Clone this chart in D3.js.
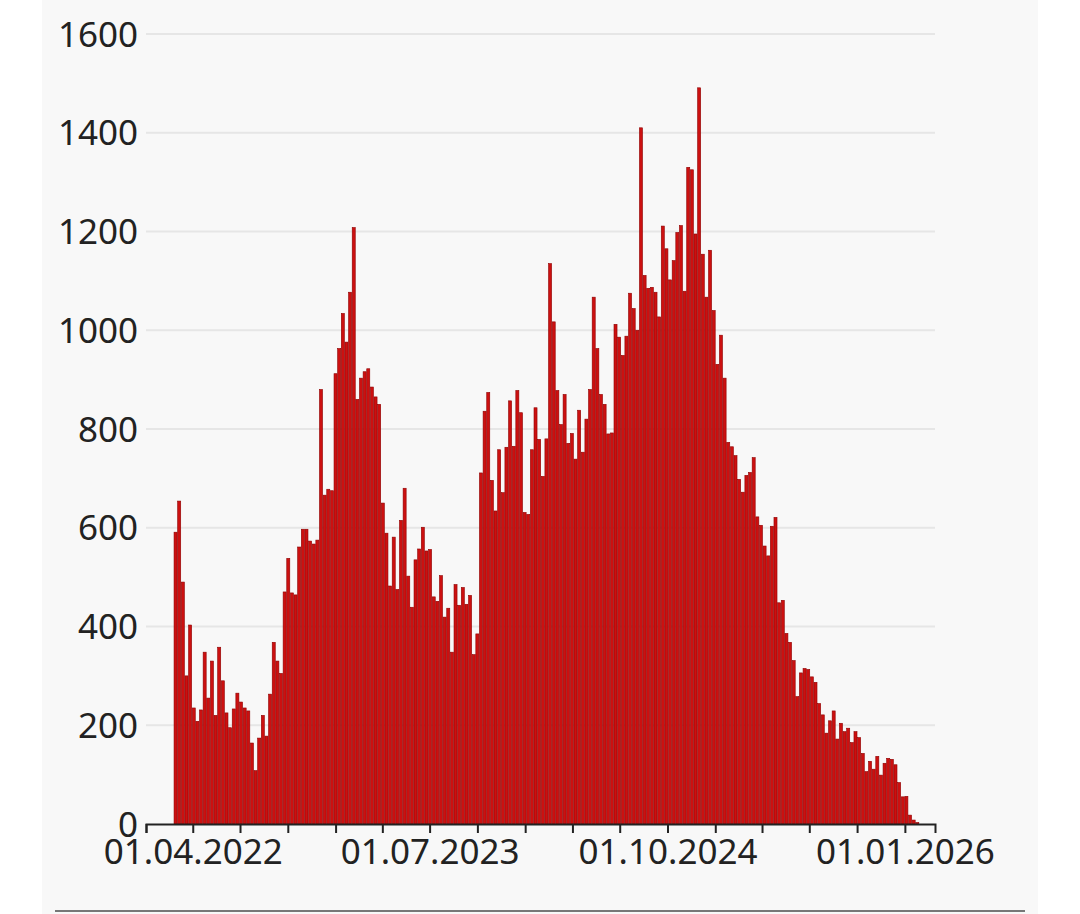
<!DOCTYPE html>
<html><head><meta charset="utf-8">
<script src="https://cdn.jsdelivr.net/npm/d3@7"></script>
<style>body{margin:0;background:#fff;font-family:"Noto Sans",sans-serif}</style>
</head><body><svg id="c" width="1080" height="914"></svg>
<script>
const startDate = "2022-02-24";
const values = [591,654,490,300,403,235,208,231,348,255,330,220,358,290,225,195,233,265,247,235,229,164,108,174,220,178,263,368,330,305,470,538,468,464,561,597,597,573,567,575,880,666,678,675,912,963,1034,976,1077,1208,860,903,916,922,885,865,850,650,589,482,581,475,615,680,502,439,535,557,601,553,556,460,451,503,419,437,348,485,443,479,445,463,343,385,711,836,874,696,634,758,671,763,857,765,878,833,631,627,758,843,779,704,780,1135,1017,878,809,870,771,791,739,838,753,820,880,1067,963,870,850,790,792,1012,986,949,988,1075,1044,1000,1410,1111,1085,1087,1077,1027,1211,1165,1102,1141,1198,1212,1079,1330,1325,1195,1491,1154,1067,1162,1040,931,990,903,773,764,746,698,672,706,712,742,622,605,563,543,603,621,448,453,386,368,331,258,306,315,313,298,287,244,221,184,209,229,172,204,187,194,165,187,175,143,106,127,111,137,99,123,133,131,120,84,55,56,18,8,3];
const yTicks = [0,200,400,600,800,1000,1200,1400,1600];
const xTickDates = ["2022-01-01","2022-04-01","2022-07-01","2022-10-01","2023-01-01","2023-04-01","2023-07-01","2023-10-01","2024-01-01","2024-04-01","2024-07-01","2024-10-01","2025-01-01","2025-04-01","2025-07-01","2025-10-01","2026-01-01"];
const xLabelDates = ["2022-04-01","2023-07-01","2024-10-01","2026-01-01"];

const svg = d3.select("#c");
svg.append("rect").attr("x",42).attr("y",0).attr("width",996).attr("height",914).attr("fill","#f8f8f8");
svg.append("line").attr("x1",55).attr("x2",1025).attr("y1",911).attr("y2",911).attr("stroke","#777").attr("stroke-width",2);

const parse = d3.utcParse("%Y-%m-%d");
const x = d3.scaleUtc().domain([parse("2022-01-01"), parse("2026-02-28")]).range([146,935]);
const y = d3.scaleLinear().domain([0,1600]).range([824,34]);
const fmt = d3.utcFormat("%d.%m.%Y");

const grid = svg.append("g");
yTicks.forEach(t=>{
  if(t>0) grid.append("line").attr("x1",146).attr("x2",935).attr("y1",y(t)).attr("y2",y(t)).attr("stroke","#e6e6e6").attr("stroke-width",2);
  grid.append("text").attr("x",138).attr("y",y(t)).attr("dy","0.36em").attr("text-anchor","end").attr("font-size",35).attr("fill","#222").text(t);
});

const s = parse(startDate);
const data = values.map((v,i)=>({d:d3.utcDay.offset(s,7*i), v}));
svg.append("g").selectAll("rect").data(data).join("rect")
  .attr("x",d=>x(d.d)).attr("width",d=>x(d3.utcDay.offset(d.d,7))-x(d.d)-0.6)
  .attr("y",d=>y(d.v)).attr("height",d=>y(0)-y(d.v))
  .attr("fill","#cc1010").attr("stroke","#8e0000").attr("stroke-width",0.6);

const xa = svg.append("g").attr("transform","translate(0,824)")
  .call(d3.axisBottom(x).tickValues(xTickDates.map(parse)).tickSize(9).tickFormat(d=>xLabelDates.includes(d3.utcFormat("%Y-%m-%d")(d))?fmt(d):""));
xa.select(".domain").attr("stroke","#222").attr("stroke-width",2);
xa.selectAll(".tick line").attr("stroke","#222").attr("stroke-width",2);
xa.selectAll(".tick text").attr("font-size",35).attr("fill","#222").attr("font-family","Noto Sans, sans-serif").attr("dy","0.8em");
</script></body></html>
